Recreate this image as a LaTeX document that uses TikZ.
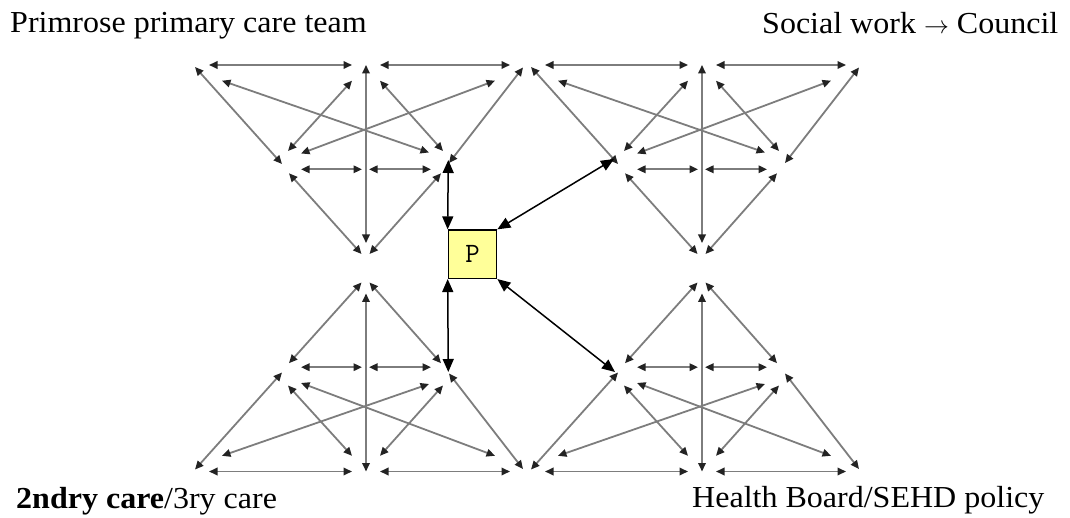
\documentclass[tikz,border=0pt]{standalone}
\usepackage{fontspec}
\setmainfont[FakeStretch=1.05]{Liberation Serif}
\usetikzlibrary{arrows.meta}

\definecolor{linkgray}{RGB}{125,125,125}
\definecolor{tipgray}{RGB}{35,35,35}
\definecolor{pyellow}{RGB}{255,255,153}

\begin{document}
\begin{tikzpicture}[x=1pt,y=-1pt,
  link/.style={draw=linkgray,line width=1.8pt,
    {Triangle[length=8.5pt,width=7.5pt,color=tipgray]}-{Triangle[length=8.5pt,width=7.5pt,color=tipgray]}},
  plink/.style={draw=black,line width=1.5pt,
    {Triangle[length=13pt,width=11pt]}-{Triangle[length=13pt,width=11pt]}},
  heading/.style={font=\fontsize{30.5}{36}\selectfont,anchor=base west,inner sep=0pt},
  pbox/.style={draw=black,line width=1.3pt,fill=pyellow,minimum size=48.4pt,
    inner sep=0pt,font=\ttfamily\fontsize{28}{30}\selectfont},
  % one care network: three hubs on the wide side, three in the middle row, one apex
  cluster/.pic={
    \coordinate (-Lc)   at (-157,0);
    \coordinate (-Cl)   at (-14,0);
    \coordinate (-Cr)   at (14,0);
    \coordinate (-Rc)   at (144,0);
    \coordinate (-Cb)   at (0,0);
    \coordinate (-Bc)   at (0,178);
    \coordinate (-Lmr)  at (-144,15.7);
    \coordinate (-MRl)  at (63,87.5);
    \coordinate (-Rml)  at (129,15.7);
    \coordinate (-MLr)  at (-65,88.5);
    \coordinate (-Cml)  at (-14,15.7);
    \coordinate (-MLc)  at (-78,86);
    \coordinate (-Cmr)  at (14,15.7);
    \coordinate (-MRc)  at (77,86);
    \coordinate (-MLmc) at (-65,104.3);
    \coordinate (-MCml) at (-4,104.3);
    \coordinate (-MCmr) at (3,104.3);
    \coordinate (-MRmc) at (65,104.3);
    \coordinate (-Lml)  at (-171,2);
    \coordinate (-MLl)  at (-84,99);
    \coordinate (-MLb)  at (-77,108.3);
    \coordinate (-Bml)  at (-4.5,189);
    \coordinate (-Rmr)  at (157,2.5);
    \coordinate (-MRr)  at (83,98);
    \coordinate (-MRb)  at (75,108.3);
    \coordinate (-Bmr)  at (3.5,189);
    \draw[link] (-Lc) -- (-Cl);
    \draw[link] (-Cr) -- (-Rc);
    \draw[link] (-Cb) -- (-Bc);
    \draw[link] (-Lmr) -- (-MRl);
    \draw[link] (-Rml) -- (-MLr);
    \draw[link] (-Cml) -- (-MLc);
    \draw[link] (-Cmr) -- (-MRc);
    \draw[link] (-MLmc) -- (-MCml);
    \draw[link] (-MCmr) -- (-MRmc);
    \draw[link] (-Lml) -- (-MLl);
    \draw[link] (-MLb) -- (-Bml);
    \draw[link] (-Rmr) -- (-MRr);
    \draw[link] (-MRb) -- (-Bmr);
  }]
\useasboundingbox (0,0) rectangle (1070,518);

% headings
\node[heading] (primary) at (10,32.7) {Primrose primary care team};
\node[heading] (social) at (762,33.3) {Social work $\rightarrow$ Council};
\node[heading] (second) at (16,508.3) {\textbf{2ndry care}/3ry care};
\node[heading] (board) at (692,507.3) {Health Board/SEHD policy};

% the four networks
\pic (tl) at (366,65) {cluster};
\pic (tr) at (702,65) {cluster};
\pic[yscale=-1] (bl) at (366,471.5) {cluster};
\pic[yscale=-1] (br) at (702,471.5) {cluster};

% the patient and the links to each network
\node[pbox] (P) at (472.5,254.2) {P};
\coordinate (pTL) at (448.3,160);
\coordinate (pTR) at (614,159);
\coordinate (pBL) at (448.3,372);
\coordinate (pBR) at (615,372);
\draw[plink] (P.north west) -- (pTL);
\draw[plink] (P.south west) -- (pBL);
\draw[plink] (P.north east) -- (pTR);
\draw[plink] (P.south east) -- (pBR);
\end{tikzpicture}
\end{document}
